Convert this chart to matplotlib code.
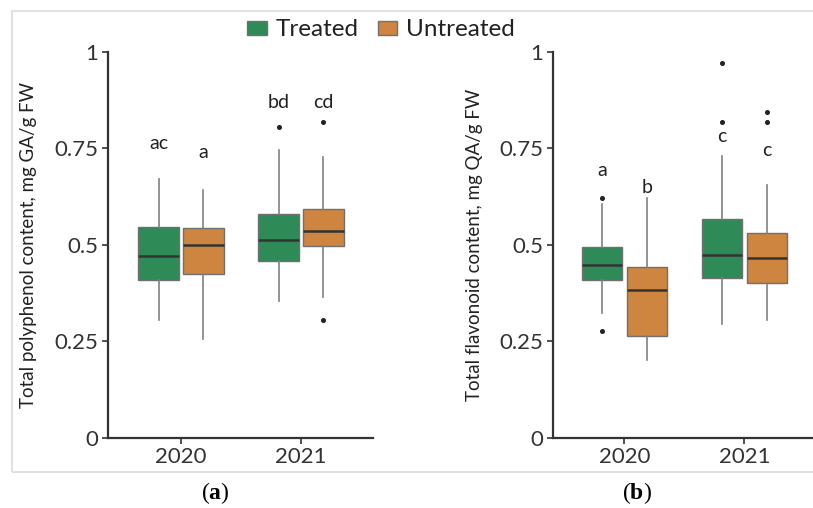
import matplotlib
matplotlib.use('Agg')
import matplotlib.pyplot as plt
from matplotlib.patches import Patch, Rectangle

plt.rcParams['font.family'] = ['Lato', 'DejaVu Sans']
plt.rcParams['mathtext.fontset'] = 'custom'
plt.rcParams['mathtext.rm'] = 'Liberation Serif'
plt.rcParams['mathtext.bf'] = 'Liberation Serif:bold'

years = ['2020', '2021']
groups = ['Treated', 'Untreated']
colors = ['#2e8b57', '#cd853f']

# (a) total polyphenol content
poly_q1 = [[0.409, 0.458], [0.425, 0.496]]
poly_med = [[0.472, 0.513], [0.499, 0.536]]
poly_q3 = [[0.547, 0.580], [0.544, 0.593]]
poly_lo = [[0.304, 0.355], [0.255, 0.365]]
poly_hi = [[0.669, 0.745], [0.643, 0.726]]
poly_fliers = [[[], [0.804]], [[], [0.819, 0.304]]]
poly_letters = [['ac', 'bd'], ['a', 'cd']]
poly_letter_y = [[0.763, 0.868], [0.738, 0.868]]

# (b) total flavonoid content
flav_q1 = [[0.409, 0.415], [0.264, 0.401]]
flav_med = [[0.447, 0.473], [0.383, 0.465]]
flav_q3 = [[0.493, 0.567], [0.443, 0.530]]
flav_lo = [[0.322, 0.295], [0.201, 0.305]]
flav_hi = [[0.605, 0.731], [0.622, 0.655]]
flav_fliers = [[[0.622, 0.277], [0.970, 0.819]], [[], [0.844, 0.817]]]
flav_letters = [['a', 'c'], ['b', 'c']]
flav_letter_y = [[0.692, 0.780], [0.649, 0.744]]

offsets = [-0.187, 0.187]
box_w = 0.335


def draw_panel(ax, q1, med, q3, lo, hi, fliers, letters, letter_y, ylabel):
    for g in range(2):
        stats = []
        for i in range(2):
            stats.append(dict(q1=q1[g][i], med=med[g][i], q3=q3[g][i],
                              whislo=lo[g][i], whishi=hi[g][i],
                              fliers=fliers[g][i]))
        pos = [i + offsets[g] for i in range(2)]
        ax.bxp(stats, positions=pos, widths=box_w, patch_artist=True,
               showcaps=False, manage_ticks=False,
               boxprops=dict(facecolor=colors[g], edgecolor='#707070', linewidth=1.0),
               medianprops=dict(color='#333333', linewidth=1.8),
               whiskerprops=dict(color='#808080', linewidth=1.2),
               flierprops=dict(marker='o', markersize=2.6, markerfacecolor='#222222',
                               markeredgecolor='#222222'))
        for i in range(2):
            ax.text(pos[i], letter_y[g][i], letters[g][i], ha='center', va='center',
                    fontsize=14, color='#222222')
    ax.set_ylim(0, 1)
    ax.set_yticks([0, 0.25, 0.5, 0.75, 1])
    ax.set_yticklabels(['0', '0.25', '0.5', '0.75', '1'])
    ax.set_xticks([0, 1])
    ax.set_xticklabels(years)
    for s in ['top', 'right']:
        ax.spines[s].set_visible(False)
    for s in ['left', 'bottom']:
        ax.spines[s].set_linewidth(1.6)
        ax.spines[s].set_color('#333333')
    ax.tick_params(labelsize=16, colors='#333333', length=4, width=1.2, pad=3)
    ax.set_ylabel(ylabel, fontsize=13.5, color='#222222')
    ax.yaxis.set_label_coords(-0.267, 0.5)
    ax.patch.set_alpha(0)


fig = plt.figure(figsize=(8.13, 5.08), dpi=100)

ax1 = fig.add_axes([108 / 813, 1 - 437.7 / 508, 265 / 813, 386 / 508])
ax1.set_xlim(-0.608, 1.6)
draw_panel(ax1, poly_q1, poly_med, poly_q3, poly_lo, poly_hi, poly_fliers,
           poly_letters, poly_letter_y, 'Total polyphenol content, mg GA/g FW')

ax2 = fig.add_axes([552.7 / 813, 1 - 437.7 / 508, 260.3 / 813, 386 / 508])
ax2.set_xlim(-0.597, 1.572)
draw_panel(ax2, flav_q1, flav_med, flav_q3, flav_lo, flav_hi, flav_fliers,
           flav_letters, flav_letter_y, 'Total flavonoid content, mg QA/g FW')

# light frame around the figure panels
fig.patches.append(Rectangle((11.7 / 813, 1 - 471.7 / 508), 0.99, (471.7 - 10.7) / 508,
                             transform=fig.transFigure, fill=False,
                             edgecolor='#e2e2e2', linewidth=1.5, clip_on=False))

handles = [Patch(facecolor=colors[g], edgecolor='#707070', label=groups[g]) for g in range(2)]
fig.legend(handles=handles, loc='center', bbox_to_anchor=(381 / 813, 1 - 30 / 508),
           ncol=2, frameon=False, fontsize=17.5, handlelength=0.8, handleheight=0.55,
           handletextpad=0.35, columnspacing=0.8, labelcolor='#222222')

fig.text(215 / 813, 1 - 493 / 508, r'($\mathbf{a}$)', ha='center', va='center',
         fontsize=17, family='Liberation Serif')
fig.text(637 / 813, 1 - 493 / 508, r'($\mathbf{b}$)', ha='center', va='center',
         fontsize=17, family='Liberation Serif')

fig.savefig('out.png', dpi=100)
